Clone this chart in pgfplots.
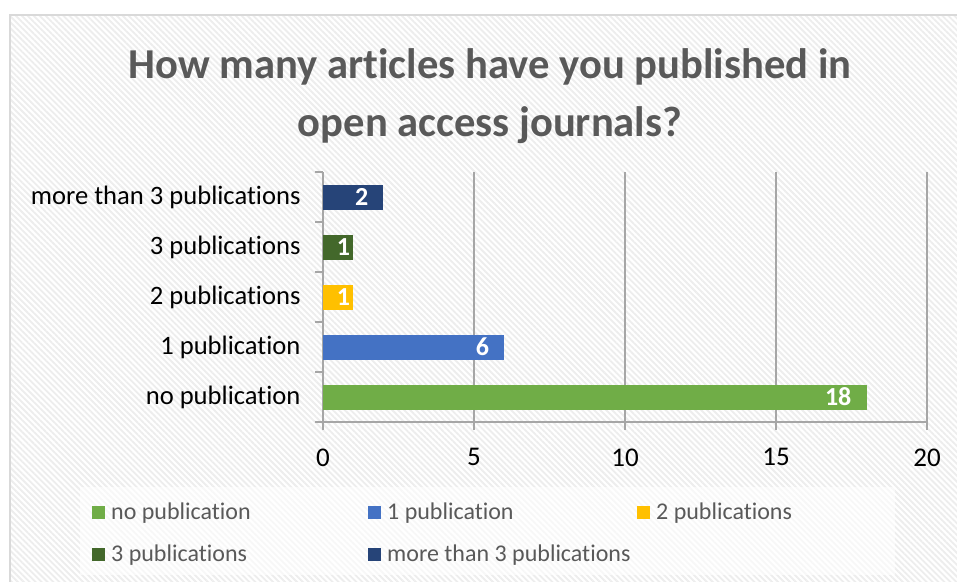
\documentclass[border=0pt]{standalone}
\usepackage{pgfplots}
\pgfplotsset{compat=1.18}
\usepackage{fontspec}
\setmainfont[Ligatures=CommonOff]{Carlito}
\usetikzlibrary{patterns.meta}
\definecolor{cNo}{HTML}{70AD47}
\definecolor{cOne}{HTML}{4472C4}
\definecolor{cTwo}{HTML}{FFC000}
\definecolor{cThree}{HTML}{43682B}
\definecolor{cMore}{HTML}{264478}
\definecolor{axisgray}{HTML}{A6A6A6}
\definecolor{titlegray}{HTML}{595959}
\definecolor{bordergray}{HTML}{D9D9D9}
\begin{document}
\begin{tikzpicture}
\useasboundingbox (0,0) rectangle (957bp,582bp);
% chart area background
\fill[white] (10bp,0) rectangle (957bp,567bp);
\fill[pattern={Lines[angle=-45,distance=4.2bp,line width=1.8bp]},pattern color=black!7] (10bp,0) rectangle (957bp,567bp);
\draw[bordergray,line width=1.5bp] (10bp,0) -- (10bp,567bp) -- (957bp,567bp);
% legend background
\fill[white,opacity=0.6] (80bp,7bp) rectangle (895bp,95bp);
% title
\node[anchor=base,text=titlegray,font=\fontsize{42.6bp}{50bp}\selectfont\bfseries,inner sep=0] at (490bp,503bp) {How many articles have you published in};
\node[anchor=base,text=titlegray,font=\fontsize{42.6bp}{50bp}\selectfont\bfseries,inner sep=0] at (490bp,445bp) {open access journals?};
\begin{axis}[
  at={(323bp,160bp)}, anchor=south west,
  scale only axis, width=604bp, height=250bp,
  xbar, bar width=25bp, bar shift=0pt,
  xmin=0, xmax=20, ymin=-0.5, ymax=4.5,
  xtick={0,5,10,15,20},
  ytick={0,1,2,3,4},
  yticklabels={no publication,1 publication,2 publications,3 publications,more than 3 publications},
  minor ytick={-0.5,0.5,1.5,2.5,3.5,4.5},
  axis x line*=bottom, axis y line*=left,
  axis line style={axisgray,line width=1.5bp},
  xmajorgrids, major grid style={axisgray,line width=1.5bp},
  tick align=outside, major tick length=8bp, minor tick length=8bp,
  major x tick style={axisgray,line width=1.5bp},
  major y tick style={draw=none},
  minor y tick style={axisgray,line width=1.5bp},
  /pgf/number format/assume math mode=true,
  xticklabel style={font=\fontsize{27bp}{32bp}\selectfont, text=black, yshift=-15bp},
  yticklabel style={font=\fontsize{26.6bp}{31bp}\selectfont, text=black, xshift=-11bp},
  nodes near coords,
  every node near coord/.append style={anchor=east, inner sep=0pt, xshift=-15bp, text=white, font=\fontsize{26bp}{31bp}\selectfont\bfseries},
  legend columns=3,
  legend style={at={(axis description cs:-0.4023,-0.26)}, anchor=north west, draw=none, fill=none,
    font=\fontsize{24bp}{28bp}\selectfont, text=titlegray, cells={anchor=west}, inner xsep=12bp, inner ysep=14bp, row sep=20bp},
  legend image code/.code={\fill[#1] (0bp,-6.5bp) rectangle (13bp,6.5bp);},
]
\addplot[fill=cNo, draw=none] coordinates {(18,0)};
\addlegendentry{\hspace{4bp}\makebox[255bp][l]{no publication}}
\addplot[fill=cOne, draw=none] coordinates {(6,1)};
\addlegendentry{\hspace{4bp}\makebox[248bp][l]{1 publication}}
\addplot[fill=cTwo, draw=none, every node near coord/.append style={xshift=12bp}] coordinates {(1,2)};
\addlegendentry{\hspace{4bp}\makebox[180bp][l]{2 publications}}
\addplot[fill=cThree, draw=none, every node near coord/.append style={xshift=12bp}] coordinates {(1,3)};
\addlegendentry{\hspace{4bp}\makebox[255bp][l]{3 publications}}
\addplot[fill=cMore, draw=none] coordinates {(2,4)};
\addlegendentry{\hspace{4bp}\makebox[248bp][l]{more than 3 publications}}
\end{axis}
\end{tikzpicture}
\end{document}
